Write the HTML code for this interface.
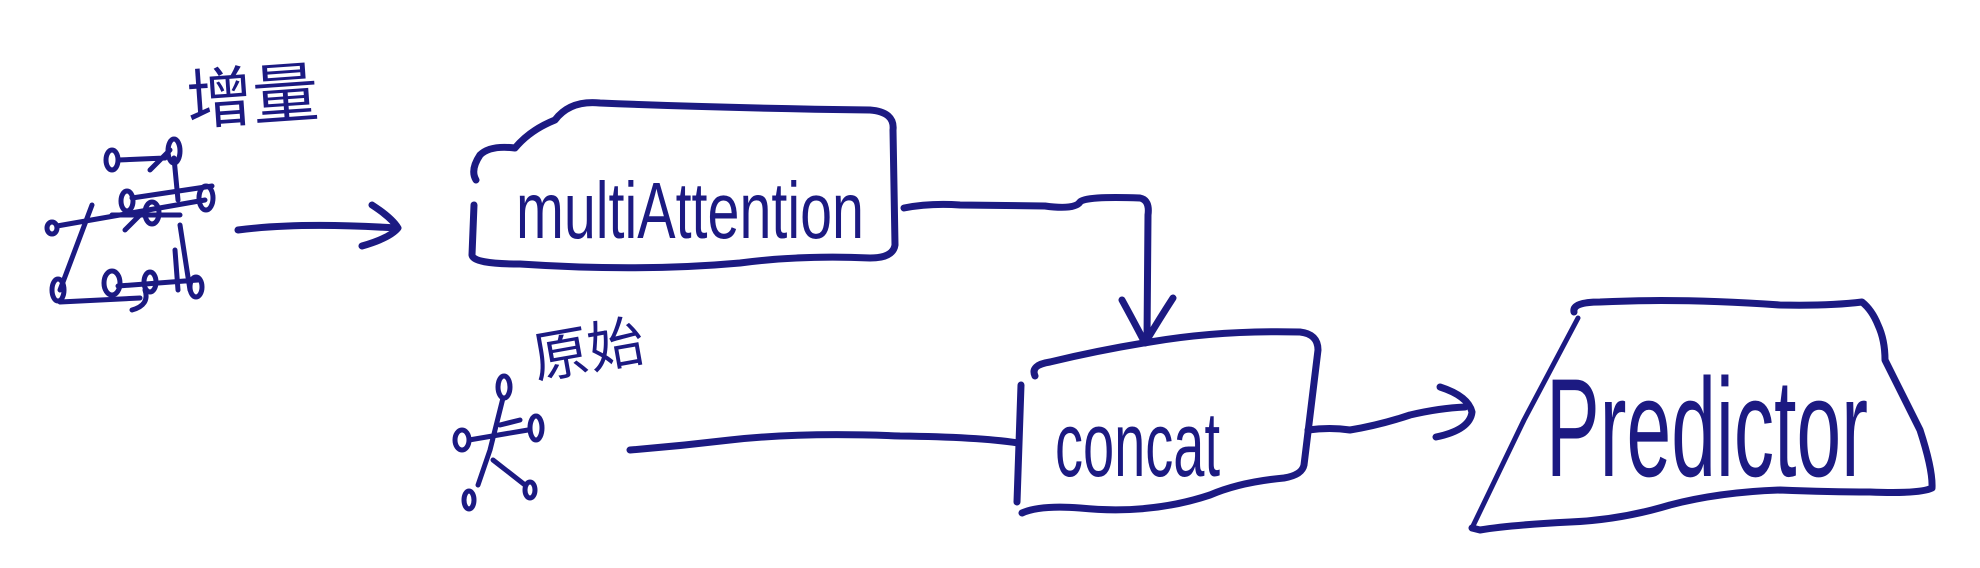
<!DOCTYPE html>
<html><head><meta charset="utf-8"><style>
html,body{margin:0;padding:0;background:#fff;}
svg{display:block;}
text{fill:#1c1a82;font-family:"Liberation Sans","Noto Sans CJK SC",sans-serif;}
</style></head><body>
<svg width="1980" height="568" viewBox="0 0 1980 568" xmlns="http://www.w3.org/2000/svg">
<g fill="none" stroke="#1c1a82" stroke-linecap="round" stroke-linejoin="round">
<g stroke-width="5">
<ellipse cx="112" cy="160" rx="6" ry="10"/>
<ellipse cx="174" cy="151" rx="6" ry="12"/>
<path d="M118 160 L165 158 M150 170 L170 150"/>
<ellipse cx="52" cy="228" rx="5" ry="6"/>
<ellipse cx="127" cy="201" rx="6" ry="10"/>
<ellipse cx="152" cy="213" rx="7" ry="11"/>
<ellipse cx="206" cy="198" rx="7" ry="12"/>
<path d="M57 226 L205 200 M132 198 L212 186 M174 158 L178 200 M175 250 L178 290"/>
<path d="M92 205 L60 290 M112 215 L180 215 M125 230 L140 215"/>
<ellipse cx="58" cy="290" rx="6" ry="11"/>
<ellipse cx="112" cy="283" rx="8" ry="12"/>
<ellipse cx="150" cy="282" rx="6" ry="10"/>
<ellipse cx="196" cy="287" rx="6" ry="10"/>
<path d="M118 286 L198 280 M60 302 L140 298 M180 225 L190 290 M145 290 Q150 305 132 310"/>
</g>
<g stroke-width="5">
<ellipse cx="504" cy="387" rx="6" ry="11"/>
<ellipse cx="462" cy="440" rx="7" ry="10"/>
<ellipse cx="536" cy="428" rx="6" ry="12"/>
<path d="M469 440 L528 430 M503 398 L490 450 L478 485 M493 460 L525 485 M500 425 L520 420"/>
<ellipse cx="469" cy="500" rx="5" ry="9"/>
<ellipse cx="530" cy="490" rx="5" ry="8"/>
</g>
<g stroke-width="7">
<path d="M238 230 Q300 222 396 228"/>
<path d="M372 205 Q392 218 398 228 Q390 238 362 246"/>
<path d="M476 180 Q470 170 480 155 Q490 145 515 148 Q530 130 555 120 Q570 100 600 103 Q720 108 870 110 Q895 112 893 130 L895 245 Q893 258 870 258 Q800 255 740 263 Q640 272 520 264 Q473 264 472 255 L474 205"/>
<path d="M904 208 Q930 203 960 205 L1045 206 Q1075 210 1080 202 Q1085 196 1140 198 Q1150 200 1148 215 L1147 340"/>
<path d="M1122 300 Q1133 320 1145 343 Q1160 318 1173 298"/>
<path d="M630 450 Q680 446 730 440 Q800 432 900 436 Q980 437 1018 443"/>
<path d="M1021 385 L1017 502"/>
<path d="M1035 376 Q1030 365 1050 362 Q1100 350 1150 342 Q1220 330 1300 332 Q1318 334 1318 350 L1304 465 Q1302 475 1284 478 Q1240 482 1210 495 Q1150 515 1080 508 Q1040 505 1022 513"/>
<path d="M1308 430 Q1330 427 1350 430 Q1380 425 1410 415 Q1440 408 1465 407"/>
<path d="M1440 387 Q1468 396 1472 412 Q1470 430 1436 437"/>
<path d="M1574 312 Q1572 302 1600 302 Q1680 298 1780 305 Q1830 306 1862 302 Q1872 310 1878 325 Q1885 340 1885 360 L1920 430 Q1933 470 1932 488 Q1920 494 1870 492 Q1830 492 1780 490 Q1720 492 1670 505 Q1620 520 1570 522 Q1510 525 1480 530 L1472 528"/>
</g>
<path d="M1578 318 L1524 420 L1472 528" stroke-width="5"/>
</g>
<text x="188" y="124" font-size="66" transform="rotate(-4 190 120)">增量</text>
<text x="535" y="378" font-size="56" transform="rotate(-10 540 370)">原始</text>
<text x="516" y="238" font-size="80" textLength="348" lengthAdjust="spacingAndGlyphs">multiAttention</text>
<text x="1055" y="476" font-size="92" textLength="165" lengthAdjust="spacingAndGlyphs">concat</text>
<text x="1546" y="476" font-size="140" textLength="322" lengthAdjust="spacingAndGlyphs">Predictor</text>
</svg>
</body></html>
